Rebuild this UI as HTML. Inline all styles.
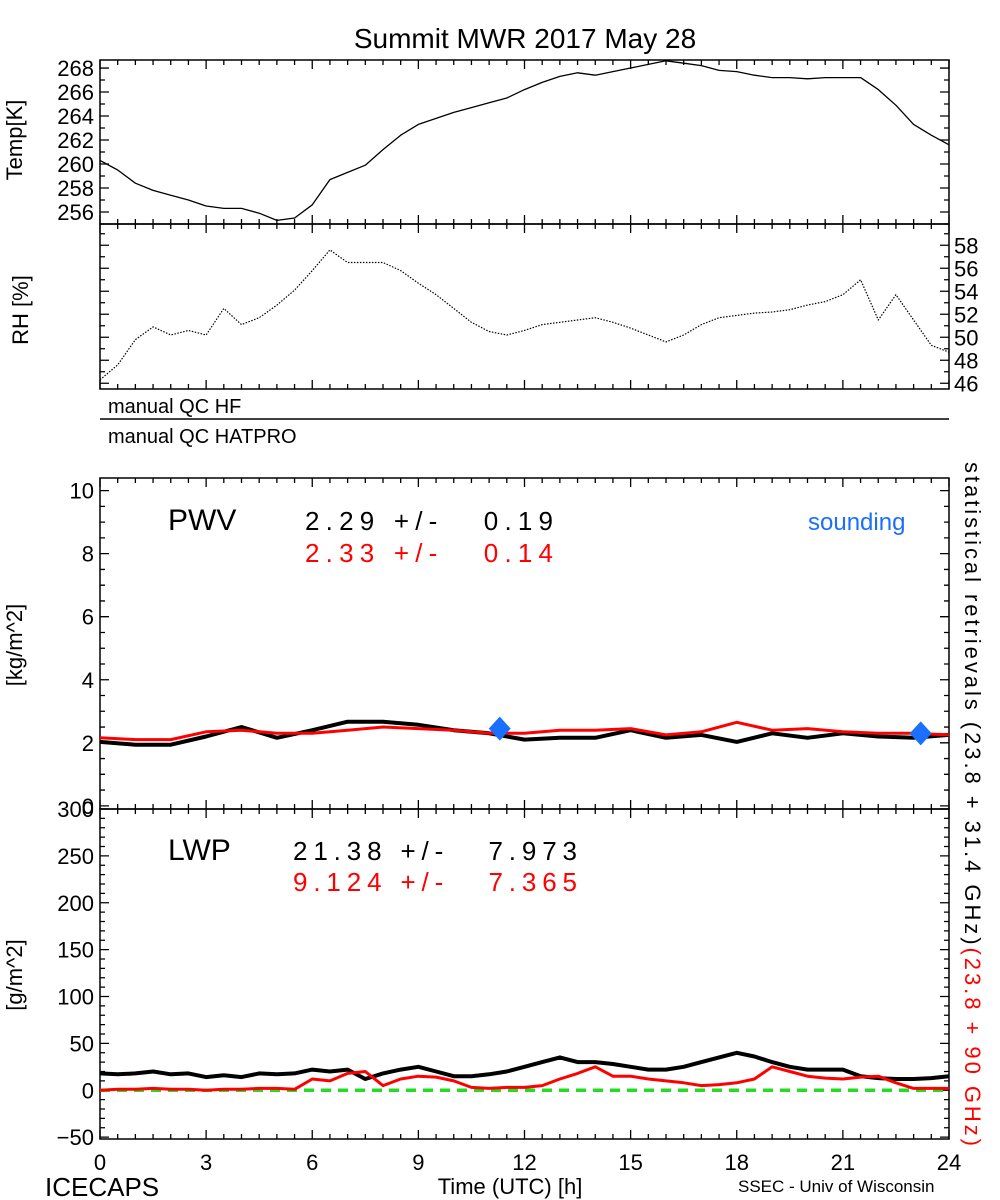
<!DOCTYPE html>
<html><head><meta charset="utf-8"><style>
body{margin:0;background:#fff}
svg{display:block;font-family:"Liberation Sans",sans-serif}
</style></head><body>
<svg id="chart" width="1000" height="1200" xmlns="http://www.w3.org/2000/svg">
<rect width="1000" height="1200" fill="#fff"/>
<text x="525" y="48" font-size="28" text-anchor="middle">Summit MWR 2017 May 28</text>
<g id="axes"></g>
<g id="marks"></g>
<text x="22" y="140" font-size="22" text-anchor="middle" transform="rotate(-90 22 140)">Temp[K]</text>
<text x="28" y="310" font-size="22" text-anchor="middle" transform="rotate(-90 28 310)">RH [%]</text>
<text x="22" y="645" font-size="22" text-anchor="middle" transform="rotate(-90 22 645)">[kg/m^2]</text>
<text x="22" y="975" font-size="22" text-anchor="middle" transform="rotate(-90 22 975)">[g/m^2]</text>
<text x="108" y="413" font-size="20">manual QC HF</text>
<line x1="100" y1="419" x2="949" y2="419" stroke="#000" stroke-width="1.5"/>
<text x="108" y="443" font-size="20">manual QC HATPRO</text>
<text x="168" y="530" font-size="30">PWV</text>
<text x="305" y="530" font-size="26" textLength="248" xml:space="preserve">2.29 +/-   0.19</text>
<text x="305" y="562" font-size="26" textLength="248" fill="#f00" xml:space="preserve">2.33 +/-   0.14</text>
<text x="808" y="530" font-size="24" fill="#1a6fff">sounding</text>
<text x="168" y="860" font-size="30">LWP</text>
<text x="293" y="860" font-size="26" textLength="284" xml:space="preserve">21.38 +/-   7.973</text>
<text x="293" y="891" font-size="26" textLength="284" fill="#f00" xml:space="preserve">9.124 +/-   7.365</text>
<text x="965" y="462" font-size="22" textLength="684" transform="rotate(90 965 462)">statistical retrievals (23.8 + 31.4 GHz)<tspan fill="#f00">(23.8 + 90 GHz)</tspan></text>
<text x="45" y="1196" font-size="26">ICECAPS</text>
<text x="510" y="1194" font-size="22" text-anchor="middle">Time (UTC) [h]</text>
<text x="738" y="1192" font-size="17">SSEC - Univ of Wisconsin</text>
</svg>
<script>
const NS="http://www.w3.org/2000/svg";
const xTicks=[0,3,6,9,12,15,18,21,24];
const tempTicks=[256,258,260,262,264,266,268];
const rhTicks=[46,48,50,52,54,56,58];
const pwvTicks=[0,2,4,6,8,10];
const lwpTicks=[-50,0,50,100,150,200,250,300];
const halfHours=[];for(let i=0;i<=48;i++)halfHours.push(i/2);
const hours=[];for(let i=0;i<=24;i++)hours.push(i);
const tempK=[260.3,259.5,258.4,257.8,257.4,257.0,256.5,256.3,256.3,255.9,255.3,255.5,256.6,258.7,259.3,259.9,261.2,262.4,263.3,263.8,264.3,264.7,265.1,265.5,266.2,266.8,267.3,267.6,267.4,267.7,268.0,268.3,268.6,268.4,268.2,267.8,267.7,267.4,267.2,267.2,267.1,267.2,267.2,267.2,266.2,264.9,263.3,262.4,261.6];
const rhPct=[46.3,47.6,49.8,50.9,50.2,50.6,50.2,52.5,51.1,51.7,52.8,54.1,55.8,57.6,56.5,56.5,56.5,55.8,54.7,53.7,52.5,51.3,50.5,50.2,50.6,51.1,51.3,51.5,51.7,51.3,50.8,50.2,49.6,50.2,51.1,51.7,51.9,52.1,52.2,52.4,52.8,53.1,53.7,55.0,51.5,53.7,51.5,49.3,48.7];
const pwvBlack=[2.03,1.94,1.94,2.2,2.5,2.16,2.4,2.67,2.67,2.57,2.4,2.3,2.1,2.16,2.16,2.4,2.16,2.25,2.03,2.3,2.16,2.3,2.2,2.16,2.25];
const pwvRed=[2.16,2.1,2.1,2.35,2.4,2.3,2.3,2.4,2.5,2.45,2.4,2.3,2.3,2.4,2.4,2.45,2.25,2.35,2.65,2.4,2.45,2.35,2.3,2.3,2.25];
const soundTimes=[11.3,23.2];
const soundPwv=[2.45,2.3];
const lwpBlack=[18,17,18,20,17,18,14,16,14,18,17,18,22,20,22,12,18,22,25,20,15,15,17,20,25,30,35,30,30,28,25,22,22,25,30,35,40,36,30,25,22,22,22,15,13,12,12,13,15];
const lwpRed=[0,1,1,2,1,1,0,1,1,2,2,1,12,10,18,20,5,12,15,14,10,3,2,3,3,5,12,18,25,15,15,12,10,8,5,6,8,12,25,20,15,13,12,14,15,8,2,2,2];
function sx(t){return 100+t*(849/24);}
const panels={temp:{top:60,bot:224,lo:255,hi:268.67},rh:{top:224,bot:389,lo:45.5,hi:59.85},pwv:{top:478,bot:809,lo:-0.1,hi:10.4},lwp:{top:809,bot:1139,lo:-52,hi:300}};
function sy(p,v){const P=panels[p];return P.bot-(v-P.lo)/(P.hi-P.lo)*(P.bot-P.top);}
const axes=document.getElementById('axes'),marks=document.getElementById('marks');
function mk(tag,attrs,parent){const e=document.createElementNS(NS,tag);for(const k in attrs)e.setAttribute(k,attrs[k]);parent.appendChild(e);return e;}
function drawPanel(p,ticks,minorStep,labelSide,name){
  const P=panels[p];
  const r=mk('rect',{x:100,y:P.top,width:849,height:P.bot-P.top,fill:'none',stroke:'#000','stroke-width':1.5},axes);
  
  
  let d='';
  for(let t=0;t<=24.001;t+=0.5){const L=(Math.abs(t/3-Math.round(t/3))<1e-6)?9:5;const x=sx(t);
    d+=`M${x},${P.bot}v${-L}M${x},${P.top}v${L}`;}
  const v0=Math.ceil(P.lo/minorStep)*minorStep;
  for(let v=v0;v<=P.hi+1e-6;v+=minorStep){const y=sy(p,v);const maj=ticks.some(tk=>Math.abs(tk-v)<1e-6);const L=maj?9:5;
    d+=`M100,${y}h${L}M949,${y}h${-L}`;}
  const tp=mk('path',{d:d,stroke:'#000','stroke-width':1.3,fill:'none'},axes);
  
  
  ticks.forEach(v=>{
    const lx=labelSide==='left'?94:954;
    const t=mk('text',{x:lx,y:sy(p,v)+8,'font-size':22,'text-anchor':labelSide==='left'?'end':'start'},axes);
    t.textContent=(v<0?'\u2212'+(-v):v);
    
    
  });
}
drawPanel('temp',tempTicks,1,'left','temp-axis');
drawPanel('rh',rhTicks,1,'right','rh-axis');
drawPanel('pwv',pwvTicks,0.5,'left','pwv-axis');
drawPanel('lwp',lwpTicks,10,'left','lwp-axis');
xTicks.forEach(t=>{const e=mk('text',{x:sx(t),y:1170,'font-size':22,'text-anchor':'middle'},axes);e.textContent=t;
  
  });
function line(p,xs,ys,color,w,name,dash){
  const d=ys.map((v,i)=>(i?'L':'M')+sx(xs[i]).toFixed(1)+','+sy(p,v).toFixed(1)).join('');
  const e=mk('path',{d:d,stroke:color,'stroke-width':w,fill:'none','stroke-linejoin':'round'},marks);
  if(dash)e.setAttribute('stroke-dasharray',dash);
  
  
}
line('temp',halfHours,tempK,'#000',1.3,'temp-line');
line('rh',halfHours,rhPct,'#000',1.2,'rh-line','1.5 1.5');
line('lwp',[0,24],[0,0],'#22dd22',3.5,'lwp-zero-line','10 7');
line('pwv',hours,pwvBlack,'#000',4,'pwv-black-line');
line('pwv',hours,pwvRed,'#f00',3,'pwv-red-line');
line('lwp',halfHours,lwpBlack,'#000',4,'lwp-black-line');
line('lwp',halfHours,lwpRed,'#f00',3,'lwp-red-line');
soundTimes.forEach((t,i)=>{const x=sx(t),y=sy('pwv',soundPwv[i]);
  const e=mk('path',{d:`M${x},${y-12}L${x+11},${y}L${x},${y+12}L${x-11},${y}Z`,fill:'#1a6fff'},marks);
  
  });
</script>
</body></html>
